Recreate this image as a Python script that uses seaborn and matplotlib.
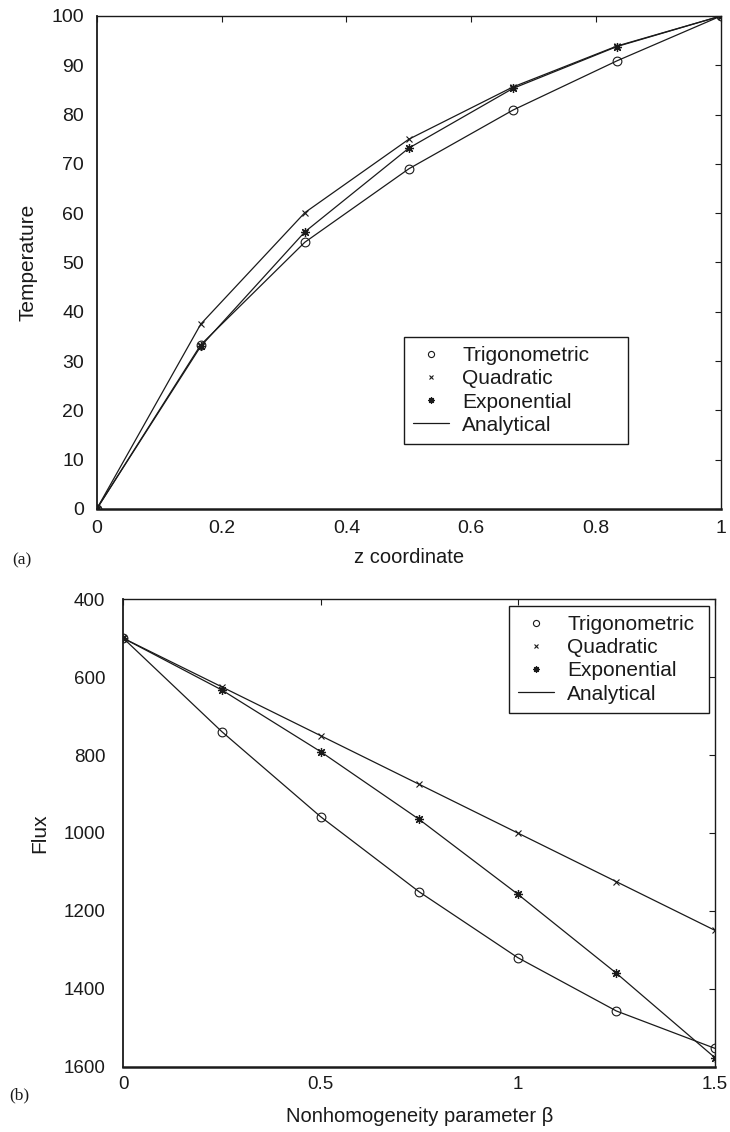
import matplotlib
matplotlib.use("Agg")
import matplotlib.pyplot as plt
from matplotlib.lines import Line2D
import numpy as np
import pandas as pd
import seaborn as sns

# ---------------- data ----------------
z_coord = [0.0, 1/6, 2/6, 3/6, 4/6, 5/6, 1.0]
temp_trig = [0.0, 33.3, 54.1, 69.0, 80.9, 90.9, 100.0]
temp_quad = [0.0, 37.5, 60.1, 75.0, 85.6, 93.9, 100.0]
temp_exp = [0.0, 33.0, 56.2, 73.2, 85.3, 93.8, 100.0]

beta = [0.0, 0.25, 0.5, 0.75, 1.0, 1.25, 1.5]
flux_trig = [500, 740, 958, 1151, 1320, 1457, 1553]
flux_quad = [500, 625, 750, 875, 1000, 1125, 1250]
flux_exp = [500, 633, 791, 965, 1157, 1360, 1577]

series_names = ["Trigonometric", "Quadratic", "Exponential"]
top_xticks = [0, 0.2, 0.4, 0.6, 0.8, 1.0]
top_xticklabels = ["0", "0.2", "0.4", "0.6", "0.8", "1"]
top_yticks = list(range(0, 101, 10))
bot_xticks = [0, 0.5, 1.0, 1.5]
bot_xticklabels = ["0", "0.5", "1", "1.5"]
bot_yticks = list(range(400, 1601, 200))

# ---------------- style ----------------
sns.set_theme(style="white")
plt.rcParams["font.family"] = ["Liberation Sans", "DejaVu Sans"]
INK = "#1a1a1a"
for k in ("axes.edgecolor", "text.color", "xtick.color", "ytick.color",
          "axes.labelcolor"):
    plt.rcParams[k] = INK

asterisk = (8, 2, 0)
marker_styles = {
    "Trigonometric": dict(marker="o", markersize=6.3, markerfacecolor="none",
                          markeredgecolor=INK, markeredgewidth=0.8),
    "Quadratic": dict(marker="x", markersize=5.0, markeredgecolor=INK,
                      markeredgewidth=0.8),
    "Exponential": dict(marker=asterisk, markersize=6.5, markeredgecolor=INK,
                        markeredgewidth=0.9),
}

fig = plt.figure(figsize=(7.30, 11.32), dpi=100)
ax1 = fig.add_axes([0.1325, 0.5504, 0.8552, 0.4355])
ax2 = fig.add_axes([0.1689, 0.0577, 0.8105, 0.4129])

top_df = pd.DataFrame({"z": z_coord * 3,
                       "T": temp_trig + temp_quad + temp_exp,
                       "series": sum([[n] * len(z_coord) for n in series_names], [])})
bot_df = pd.DataFrame({"b": beta * 3,
                       "F": flux_trig + flux_quad + flux_exp,
                       "series": sum([[n] * len(beta) for n in series_names], [])})

for name in series_names:
    d = top_df[top_df["series"] == name]
    sns.lineplot(data=d, x="z", y="T", ax=ax1, color=INK, linewidth=0.9,
                 legend=False, estimator=None, **marker_styles[name])
    d = bot_df[bot_df["series"] == name]
    sns.lineplot(data=d, x="b", y="F", ax=ax2, color=INK, linewidth=0.9,
                 legend=False, estimator=None, **marker_styles[name])


def legend_handles():
    hs = []
    for name in series_names:
        st = dict(marker_styles[name])
        st["markersize"] = st["markersize"] * 0.7
        hs.append(Line2D([], [], linestyle="none", **st))
    hs.append(Line2D([], [], color=INK, linewidth=0.9))
    return hs, series_names + ["Analytical"]


leg_kw = dict(fontsize=15, frameon=True, fancybox=False, framealpha=1,
              edgecolor=INK, handlelength=1.7, handletextpad=0.65,
              labelspacing=0.2, borderpad=0.45, borderaxespad=0,
              mode="expand")

# ---------------- top axes ----------------
ax1.set_xlim(0, 1)
ax1.set_ylim(0, 100)
ax1.set_xticks(top_xticks)
ax1.set_xticklabels(top_xticklabels)
ax1.set_yticks(top_yticks)
ax1.set_xlabel("z coordinate", fontsize=14.5, labelpad=8)
ax1.set_ylabel("Temperature", fontsize=15, labelpad=10)
ax1.tick_params(axis="both", direction="in", top=True, right=True, length=4,
                width=0.8, labelsize=14)
ax1.tick_params(axis="x", pad=8)
ax1.tick_params(axis="y", pad=9)
h, l = legend_handles()
leg1 = ax1.legend(h, l, loc="upper left",
                  bbox_to_anchor=(0.492, 0.134, 0.359, 0.215), **leg_kw)
leg1.get_frame().set_linewidth(1.0)

# ---------------- bottom axes ----------------
ax2.set_xlim(0, 1.5)
ax2.set_ylim(1600, 400)
ax2.set_xticks(bot_xticks)
ax2.set_xticklabels(bot_xticklabels)
ax2.set_yticks(bot_yticks)
ax2.set_xlabel("Nonhomogeneity parameter β", fontsize=14.5, labelpad=10)
ax2.set_ylabel("Flux", fontsize=15, labelpad=10)
ax2.tick_params(axis="both", direction="in", top=True, right=True, length=4,
                width=0.8, labelsize=13.5)
ax2.tick_params(axis="x", pad=7)
ax2.tick_params(axis="y", pad=13)
h, l = legend_handles()
leg2 = ax2.legend(h, l, loc="upper left",
                  bbox_to_anchor=(0.652, 0.7696, 0.338, 0.2166), **leg_kw)
leg2.get_frame().set_linewidth(1.0)

for ax in (ax1, ax2):
    for side in ("top", "right"):
        ax.spines[side].set_linewidth(1.0)
    ax.spines["left"].set_linewidth(1.3)
    ax.spines["bottom"].set_linewidth(1.8)

fig.text(12 / 730, 1 - 560 / 1132, "(a)", fontsize=12.5, va="center", ha="left",
         family=["Liberation Serif", "DejaVu Serif"])
fig.text(9 / 730, 1 - 1095 / 1132, "(b)", fontsize=12.5, va="center", ha="left",
         family=["Liberation Serif", "DejaVu Serif"])

fig.savefig("out.png", dpi=100)
